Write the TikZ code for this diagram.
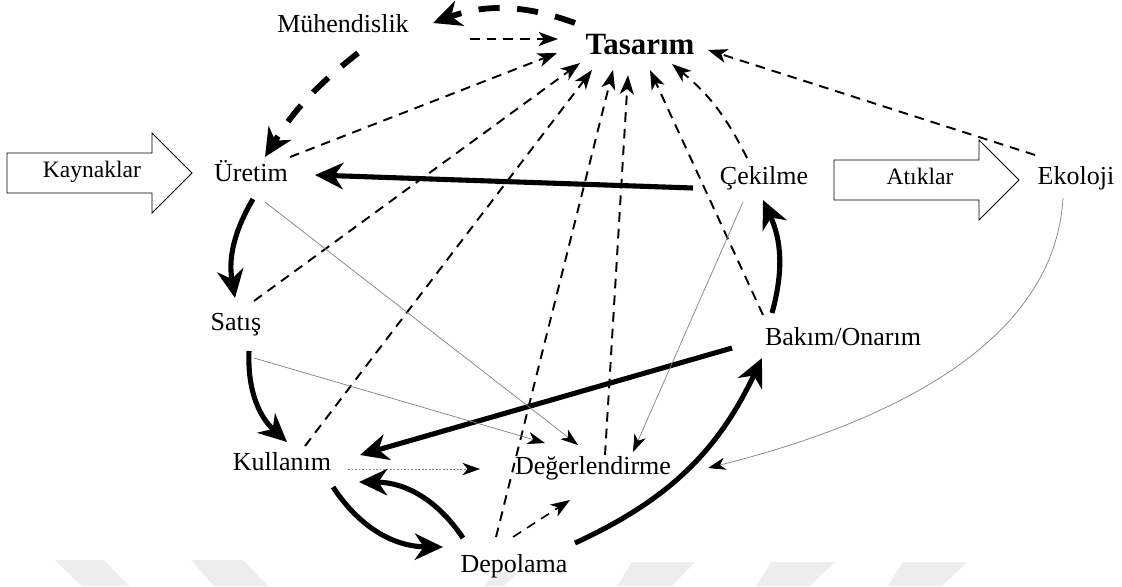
\documentclass[tikz,border=0pt]{standalone}
\usepackage{fontspec}
\setmainfont{Liberation Serif}
\usepackage{tikz}
\usetikzlibrary{arrows.meta, calc}

\begin{document}
\begin{tikzpicture}[x=0.02cm, y=-0.02cm,
    lbl/.style={font=\fontsize{14.8}{17}\selectfont, inner sep=0pt,
      text height=12pt, text depth=4pt},
    arwtxt/.style={lbl, font=\fontsize{13.4}{16}\selectfont,
      text height=10pt, text depth=4.4pt},
    blk/.style={draw=black, line width=0.5pt, fill=white},
    wmark/.style={fill=black!7, draw=none},
    heavy/.style={line width=2.9pt,
      -{Stealth[length=16pt, width=15pt, inset=5pt]}},
    hdash/.style={heavy, line width=3.3pt, dash pattern=on 12pt off 10pt},
    dsh/.style={line width=1.1pt, dash pattern=on 5.5pt off 4pt,
      -{Stealth[length=11pt, width=8pt, inset=3pt]}},
    fine/.style={gray, line width=0.4pt,
      -{Stealth[length=10pt, width=7pt, inset=3pt, color=black]}},
  ]
  \useasboundingbox (0,0) rectangle (1122,586);
  % Watermark
  \fill[wmark] (55,560) -- (104,560) -- (129,586) -- (82,586) -- cycle;
  \fill[wmark] (191,560) -- (243,560) -- (268,586) -- (214,586) -- cycle;
  \fill[wmark] (498,572) -- (518,572) -- (504,586) -- (484,586) -- cycle;
  \fill[wmark] (632,562) -- (695,562) -- (672,586) -- (617,586) -- cycle;
  \fill[wmark] (771,562) -- (835,562) -- (810,586) -- (756,586) -- cycle;
  \fill[wmark] (903,562) -- (967,562) -- (942,586) -- (888,586) -- cycle;
  % Nodes
  \node[lbl] (muh) at (343,25) {Mühendislik};
  \node[lbl, font=\bfseries\fontsize{17.6}{20}\selectfont,
    text height=15pt, text depth=2.4pt] (tas) at (640,43) {Tasarım};
  \node[lbl] (ure) at (251,174) {Üretim};
  \node[lbl] (cek) at (764,177) {Çekilme};
  \node[lbl] (eko) at (1076,177) {Ekoloji};
  \node[lbl] (sat) at (236,323) {Satış};
  \node[lbl] (bak) at (843,338) {Bakım/Onarım};
  \node[lbl] (kul) at (282,463) {Kullanım};
  \node[lbl] (deg) at (593,467) {Değerlendirme};
  \node[lbl] (dep) at (514,565) {Depolama};
  % Inputs and outputs
  \draw[blk] (7,153) -- (152,153) -- (152,133) -- (192,173) -- (152,213)
    -- (152,193) -- (7,193) -- cycle;
  \node[arwtxt] (kay) at (92,173) {Kaynaklar};
  \draw[blk] (834,160) -- (979,160) -- (979,140) -- (1019,180) -- (979,220)
    -- (979,200) -- (834,200) -- cycle;
  \node[arwtxt] (atik) at (920,180) {Atıklar};
  % Engineering loop
  \draw[hdash] ($(tas)+(-65,-20)$) to[bend right=20] ($(muh)+(90,-2)$);
  \draw[dsh] ($(muh)+(127,14)$) -- ($(tas)+(-82,-4)$);
  \draw[hdash] ($(muh)+(15,28)$) to[bend right=10] ($(ure)+(14,-17)$);
  % Feedback to design
  \draw[dsh] ($(ure)+(39,-17)$) -- ($(tas)+(-83,10)$);
  \draw[dsh] ($(sat)+(18,-22)$) -- ($(tas)+(-60,20)$);
  \draw[dsh] ($(kul)+(23,-17)$) -- ($(tas)+(-48,27)$);
  \draw[dsh] ($(dep)+(-18,-28)$) -- ($(tas)+(-27,27)$);
  \draw[dsh] ($(deg)+(12,-12)$) -- ($(tas)+(-12,32)$);
  \draw[dsh] ($(bak)+(-80,-23)$) -- ($(tas)+(10,27)$);
  \draw[dsh] ($(cek)+(-17,-19)$) to[bend right=12] ($(tas)+(32,21)$);
  \draw[dsh] ($(eko)+(-41,-22)$) -- ($(tas)+(68,7)$);
  % Life cycle
  \draw[heavy] ($(cek)+(-71,11)$) -- ($(ure)+(64,1)$);
  \draw[heavy] ($(ure)+(2,25)$) to[bend right=20] ($(sat)+(-1,-25)$);
  \draw[heavy] ($(sat)+(13,28)$) to[bend right=25] ($(kul)+(5,-21)$);
  \draw[heavy] ($(bak)+(-111,10)$) -- ($(kul)+(78,-8)$);
  \draw[heavy] ($(kul)+(51,24)$) to[bend right=28] ($(dep)+(-71,-18)$);
  \draw[heavy] ($(dep)+(-51,-27)$) to[bend right=28] ($(kul)+(77,19)$);
  \draw[heavy] ($(dep)+(61,-22)$) to[bend right=20] ($(bak)+(-81,20)$);
  \draw[heavy] ($(bak)+(-71,-25)$) to[bend right=20] ($(cek)+(-1,23)$);
  % Evaluation
  \draw[fine, dash pattern=on 1pt off 1pt] ($(kul)+(66,6)$) -- ($(deg)+(-113,2)$);
  \draw[dsh, line width=0.9pt] ($(dep)+(-1,-28)$) -- ($(deg)+(-23,33)$);
  \draw[fine] ($(ure)+(14,28)$) -- ($(deg)+(-15,-22)$);
  \draw[fine] ($(sat)+(18,35)$) -- ($(deg)+(-48,-24)$);
  \draw[fine] ($(cek)+(-21,25)$) -- ($(deg)+(40,-15)$);
  \draw[fine] ($(eko)+(-13,21)$) .. controls +(-8,140) and +(192,-48) .. ($(deg)+(115,1)$);
\end{tikzpicture}
\end{document}
